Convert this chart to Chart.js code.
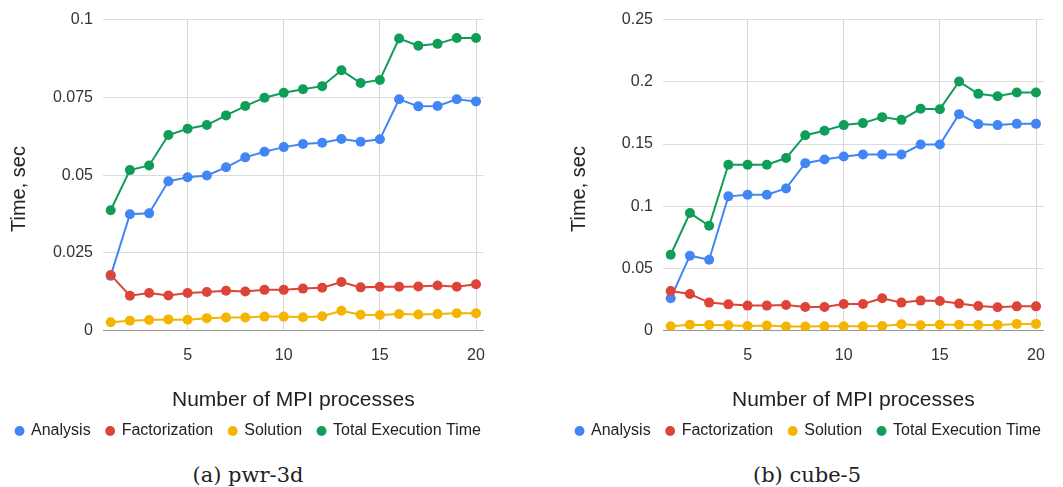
<!DOCTYPE html>
<html>
<head>
<meta charset="utf-8">
<script src="https://cdn.jsdelivr.net/npm/chart.js@4.4.1/dist/chart.umd.min.js"></script>
<style>
  body { margin: 0; background: #fff; width: 1063px; height: 487px; overflow: hidden; }
  .panel { position: absolute; top: 0; }
  .caption { position: absolute; top: 463px; width: 300px; line-height: 24px; text-align: center;
             font: 21px 'DejaVu Serif', serif; color: #222; }
</style>
</head>
<body>
<div class="panel" style="left:0"><canvas id="pwr" width="500" height="449"></canvas></div>
<div class="panel" style="left:560px"><canvas id="cube" width="500" height="449"></canvas></div>
<div class="caption" style="left:98px">(a) pwr-3d</div>
<div class="caption" style="left:657px">(b) cube-5</div>
<script>
const processes = [1, 2, 3, 4, 5, 6, 7, 8, 9, 10, 11, 12, 13, 14, 15, 16, 17, 18, 19, 20];
const xTicks = [5, 10, 15, 20];

// pwr-3d timings (sec)
const pwrAnalysis = [0.0176, 0.0374, 0.0377, 0.0480, 0.0493, 0.0499, 0.0525, 0.0557, 0.0575, 0.0590,
                     0.0600, 0.0604, 0.0616, 0.0607, 0.0615, 0.0744, 0.0721, 0.0722, 0.0744, 0.0737];
const pwrFactorization = [0.0179, 0.0112, 0.0121, 0.0113, 0.0121, 0.0124, 0.0128, 0.0126, 0.0131, 0.0131,
                          0.0135, 0.0138, 0.0156, 0.0139, 0.0141, 0.0141, 0.0142, 0.0145, 0.0141, 0.0149];
const pwrSolution = [0.0027, 0.0032, 0.0034, 0.0036, 0.0035, 0.0040, 0.0042, 0.0042, 0.0045, 0.0045,
                     0.0043, 0.0046, 0.0064, 0.0051, 0.0050, 0.0053, 0.0052, 0.0053, 0.0056, 0.0056];
const pwrTotal = [0.0387, 0.0516, 0.0531, 0.0629, 0.0649, 0.0661, 0.0692, 0.0722, 0.0749, 0.0765,
                  0.0776, 0.0786, 0.0837, 0.0796, 0.0806, 0.0939, 0.0916, 0.0922, 0.0941, 0.0941];

// cube-5 timings (sec)
const cubeAnalysis = [0.0260, 0.0602, 0.0570, 0.1079, 0.1092, 0.1092, 0.1143, 0.1346, 0.1376, 0.1400,
                      0.1416, 0.1416, 0.1416, 0.1496, 0.1496, 0.1740, 0.1660, 0.1652, 0.1662, 0.1662];
const cubeFactorization = [0.0319, 0.0294, 0.0225, 0.0211, 0.0201, 0.0201, 0.0206, 0.0190, 0.0190, 0.0214,
                           0.0214, 0.0260, 0.0225, 0.0241, 0.0238, 0.0217, 0.0198, 0.0187, 0.0195, 0.0195];
const cubeSolution = [0.0035, 0.0048, 0.0046, 0.0043, 0.0037, 0.0040, 0.0032, 0.0032, 0.0035, 0.0035,
                      0.0035, 0.0037, 0.0051, 0.0043, 0.0048, 0.0048, 0.0046, 0.0046, 0.0054, 0.0054];
const cubeTotal = [0.0610, 0.0945, 0.0843, 0.1333, 0.1333, 0.1333, 0.1387, 0.1571, 0.1606, 0.1652,
                   0.1668, 0.1716, 0.1694, 0.1783, 0.1780, 0.2002, 0.1903, 0.1884, 0.1914, 0.1914];

const seriesNames = ['Analysis', 'Factorization', 'Solution', 'Total Execution Time'];
const seriesColors = ['#4285F4', '#DB4437', '#F4B400', '#0F9D58'];

Chart.defaults.font.family = "'Liberation Sans', Arial, sans-serif";
Chart.defaults.color = '#222';

function makeSeries(values, i) {
    return {
        label: seriesNames[i],
        data: values.map((v, k) => ({ x: processes[k], y: v })),
        borderColor: seriesColors[i],
        backgroundColor: seriesColors[i],
        borderWidth: 2,
        pointRadius: 5,
        pointBorderWidth: 0,
        pointHoverRadius: 5,
        // later series sit on top
        order: 4 - i
    };
}

function drawChart(id, series, yMax, yStep) {
    new Chart(document.getElementById(id), {
        type: 'line',
        data: { datasets: series.map(makeSeries) },
        options: {
            responsive: false,
            animation: false,
            layout: { padding: { top: 17, right: 3, left: 0, bottom: 0 } },
            scales: {
                x: {
                    type: 'linear',
                    min: 0.6,
                    max: 20.4,
                    afterBuildTicks: scale => { scale.ticks = xTicks.map(v => ({ value: v })); },
                    grid: { color: '#d6d6d6', drawTicks: false },
                    border: { color: '#999' },
                    ticks: { font: { size: 16 }, color: '#333', padding: 15 },
                    title: {
                        display: true,
                        text: 'Number of MPI processes',
                        font: { size: 21 },
                        color: '#222',
                        padding: { top: 8, bottom: -6 }
                    }
                },
                y: {
                    min: 0,
                    max: yMax,
                    afterFit: scale => { scale.width = 103; },
                    grid: { color: '#dcdcdc', drawTicks: false },
                    border: { display: false },
                    ticks: {
                        stepSize: yStep,
                        font: { size: 16 },
                        color: '#333',
                        padding: 10,
                        callback: v => String(+v.toFixed(3))
                    },
                    title: {
                        display: true,
                        text: 'Time, sec     ',
                        font: { size: 20 },
                        color: '#222',
                        padding: { top: 7, bottom: 0 }
                    }
                }
            },
            plugins: {
                legend: {
                    position: 'bottom',
                    labels: {
                        usePointStyle: true,
                        pointStyle: 'circle',
                        boxWidth: 7,
                        boxHeight: 7,
                        padding: 16,
                        font: { size: 16 },
                        color: '#222',
                        sort: (a, b) => a.datasetIndex - b.datasetIndex
                    }
                },
                tooltip: { enabled: false }
            }
        }
    });
}

drawChart('pwr', [pwrAnalysis, pwrFactorization, pwrSolution, pwrTotal], 0.1, 0.025);
drawChart('cube', [cubeAnalysis, cubeFactorization, cubeSolution, cubeTotal], 0.25, 0.05);
</script>
</body>
</html>
